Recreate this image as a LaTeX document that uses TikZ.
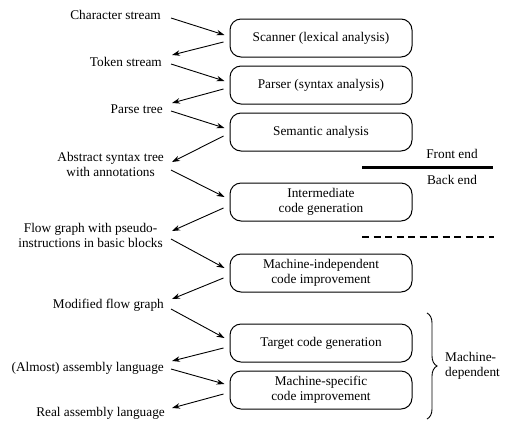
\documentclass[tikz,border=0pt]{standalone}
\usepackage{fontspec}
\setmainfont{LiberationSerif}[Extension=.ttf, UprightFont=*-Regular, BoldFont=*-Bold, ItalicFont=*-Italic]
\usetikzlibrary{calc,arrows.meta,decorations.pathreplacing}
\begin{document}
\begin{tikzpicture}[x=1pt,y=-1pt,
  font=\rmfamily\fontsize{13.3}{15}\selectfont,
  box/.style={draw, line width=1pt, rounded corners=11pt, minimum width=182pt, minimum height=38pt, align=center, inner sep=0pt},
  lab/.style={anchor=east, align=center, inner sep=0pt},
  side/.style={inner sep=0pt},
  arr/.style={-{Stealth[length=8pt,width=5.5pt]}, line width=0.9pt}]
\useasboundingbox (0,0) rectangle (510,432);

\node[box] (b1) at (321,38) {Scanner (lexical analysis)};
\node[box] (b2) at (321,85) {Parser (syntax analysis)};
\node[box] (b3) at (321,132) {Semantic analysis};
\node[box] (b4) at (321,202) {Intermediate\\code generation};
\node[box] (b5) at (321,273) {Machine-independent\\code improvement};
\node[box] (b6) at (321,343) {Target code generation};
\node[box] (b7) at (321,390) {Machine-specific\\code improvement};

\node[lab] (l1) at (161,15) {Character stream};
\node[lab] (l2) at (162,62) {Token stream};
\node[lab] (l3) at (163,109) {Parse tree};
\node[lab] (l4) at (164,164) {Abstract syntax tree\\with annotations};
\node[lab] (l5) at (163,235) {Flow graph with pseudo-\\instructions in basic blocks};
\node[lab] (l6) at (164,305) {Modified flow graph};
\node[lab] (l7) at (164,368) {(Almost) assembly language};
\node[lab] (l8) at (165,413) {Real assembly language};

% label -> box
\draw[arr] ($(l1.east)+(10,3)$) -- ($(b1.west)+(-5,-3)$);
\draw[arr] ($(l2.east)+(9,2)$) -- ($(b2.west)+(-5,-4)$);
\draw[arr] ($(l3.east)+(8,2)$) -- ($(b3.west)+(-5,-4)$);
\draw[arr] ($(l4.east)+(7,6)$) -- ($(b4.west)+(-5,-5)$);
\draw[arr] ($(l5.east)+(8,4)$) -- ($(b5.west)+(-5,-5)$);
\draw[arr] ($(l6.east)+(7,4)$) -- ($(b6.west)+(-5,-5)$);
\draw[arr] ($(l7.east)+(7,1)$) -- ($(b7.west)+(-5,-6)$);

% box -> label
\draw[arr] ($(b1.west)+(-6,4)$) -- ($(l2.east)+(10,-7)$);
\draw[arr] ($(b2.west)+(-6,4)$) -- ($(l3.east)+(9,-6)$);
\draw[arr] ($(b3.west)+(-6,4)$) -- ($(l4.east)+(8,-2)$);
\draw[arr] ($(b4.west)+(-6,6)$) -- ($(l5.east)+(9,-4)$);
\draw[arr] ($(b5.west)+(-6,5)$) -- ($(l6.east)+(8,-6)$);
\draw[arr] ($(b6.west)+(-6,5)$) -- ($(l7.east)+(8,-7)$);
\draw[arr] ($(b7.west)+(-6,4)$) -- ($(l8.east)+(7,-5)$);

% front end / back end
\draw[line width=3pt] (362,167) -- (493,167);
\node[side] (fe) at (452,154) {Front end};
\node[side] (be) at (452,180) {Back end};
\draw[line width=1.2pt, dash pattern=on 7pt off 4.5pt] (362,237) -- (494,237);

% brace
\draw[line width=0.9pt, decorate, decoration={brace, amplitude=10pt}] (427,313) -- (427,419);
\node[side, anchor=west, align=left] (md) at (445,366) {Machine-\\dependent};
\end{tikzpicture}
\end{document}
